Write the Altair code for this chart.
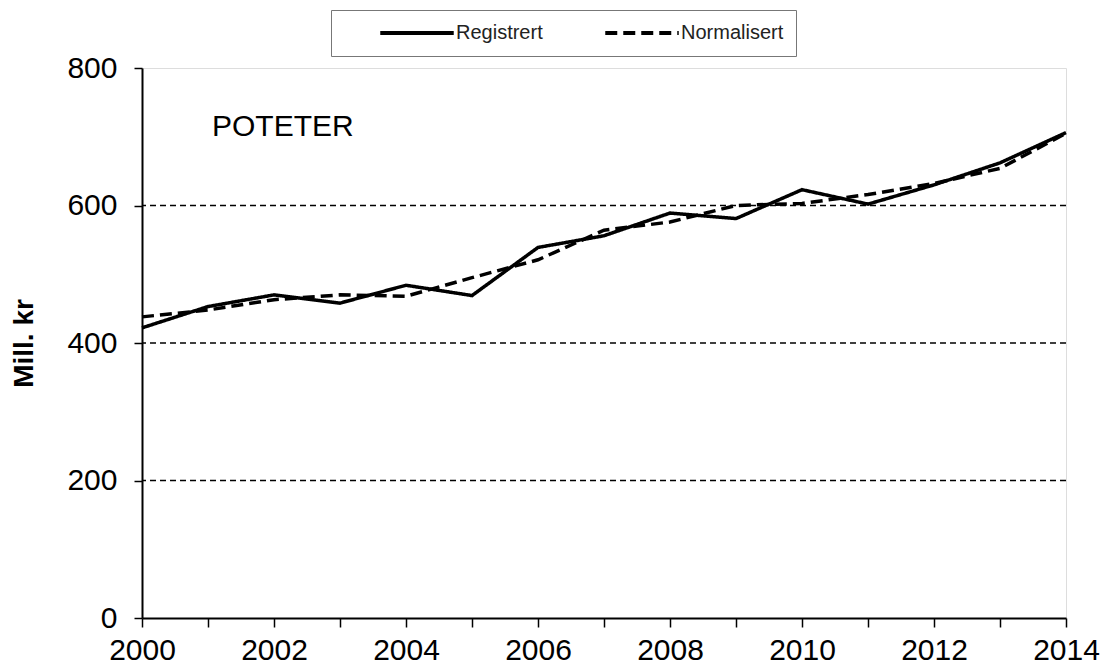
import altair as alt
import pandas as pd

years = list(range(2000, 2015))
registrert = [422, 453, 470, 458, 484, 469, 539, 556, 589, 581, 623, 602, 630, 662, 706]
normalisert = [438, 448, 463, 470, 468, 495, 521, 564, 576, 600, 603, 616, 632, 654, 705]
series_names = ["Registrert", "Normalisert"]
y_ticks = [0, 200, 400, 600, 800]
grid_values = [200, 400, 600]
label_text = ["POTETER"]
label_pos_x = [2001.06]
label_pos_y = [714]

rows = []
for y, a, b in zip(years, registrert, normalisert):
    rows.append({"year": y, "value": a, "series": series_names[0]})
    rows.append({"year": y, "value": b, "series": series_names[1]})
df = pd.DataFrame(rows)

FONT = "Liberation Sans"
x_scale = alt.Scale(domain=[2000, 2014], nice=False)
y_scale = alt.Scale(domain=[0, 800], nice=False)

x_enc = alt.X("year:Q", scale=x_scale,
              axis=alt.Axis(values=years, format="d",
                            labelExpr="datum.value % 2 == 0 ? datum.label : ''",
                            labelFlush=False, labelOverlap=False,
                            title=None, grid=False,
                            tickSize=9, labelFontSize=30,
                            labelPadding=8, domainColor="black", domainWidth=2,
                            tickColor="black", tickWidth=1.5, labelColor="black"))
y_enc = alt.Y("value:Q", scale=y_scale,
              axis=alt.Axis(values=y_ticks, title="Mill. kr",
                            labelFlush=False, labelOverlap=False,
                            titleFontSize=28, titleFontWeight="bold", titlePadding=28,
                            titleColor="black", grid=False,
                            tickSize=8, labelFontSize=30, labelPadding=17,
                            domainColor="black", domainWidth=2, tickColor="black",
                            tickWidth=1.5, labelColor="black"))

lines = alt.Chart(df).mark_line(color="black", strokeWidth=3.5).encode(
    x=x_enc,
    y=y_enc,
    strokeDash=alt.StrokeDash("series:N",
        scale=alt.Scale(domain=series_names, range=[[1, 0], [12, 6]]),
        legend=alt.Legend(title=None, orient="none", direction="horizontal",
                          legendX=189, legendY=-58, symbolType="stroke",
                          symbolSize=5400, symbolStrokeWidth=4, symbolStrokeColor="black",
                          labelFontSize=20, labelFont=FONT, labelColor="#222",
                          labelExpr="datum.label + '\u00a0\u00a0\u00a0\u00a0'",
                          strokeColor="#777", padding=12, columnPadding=25,
                          symbolOffset=35, labelOffset=0, clipHeight=22)),
    detail="series:N",
)

grid_df = pd.DataFrame({"value": grid_values})
grid = alt.Chart(grid_df).mark_rule(color="black", strokeWidth=1.4, strokeDash=[6, 4]).encode(
    y=alt.Y("value:Q", scale=y_scale))

label_df = pd.DataFrame({"year": label_pos_x, "value": label_pos_y, "t": label_text})
label = alt.Chart(label_df).mark_text(align="left", baseline="middle", fontSize=30,
                                      font=FONT, color="black").encode(
    x=alt.X("year:Q", scale=x_scale), y=alt.Y("value:Q", scale=y_scale), text="t:N")

chart = alt.layer(lines, grid, label).properties(
    width=924, height=550, autosize="none",
    padding={"left": 134, "top": 60, "right": 34, "bottom": 50},
).configure_view(stroke="black", strokeWidth=2).configure(font=FONT) \
 .configure_axis(labelFont=FONT, titleFont=FONT)

chart.save("out.html", embed_options={"renderer": "svg", "actions": False})
